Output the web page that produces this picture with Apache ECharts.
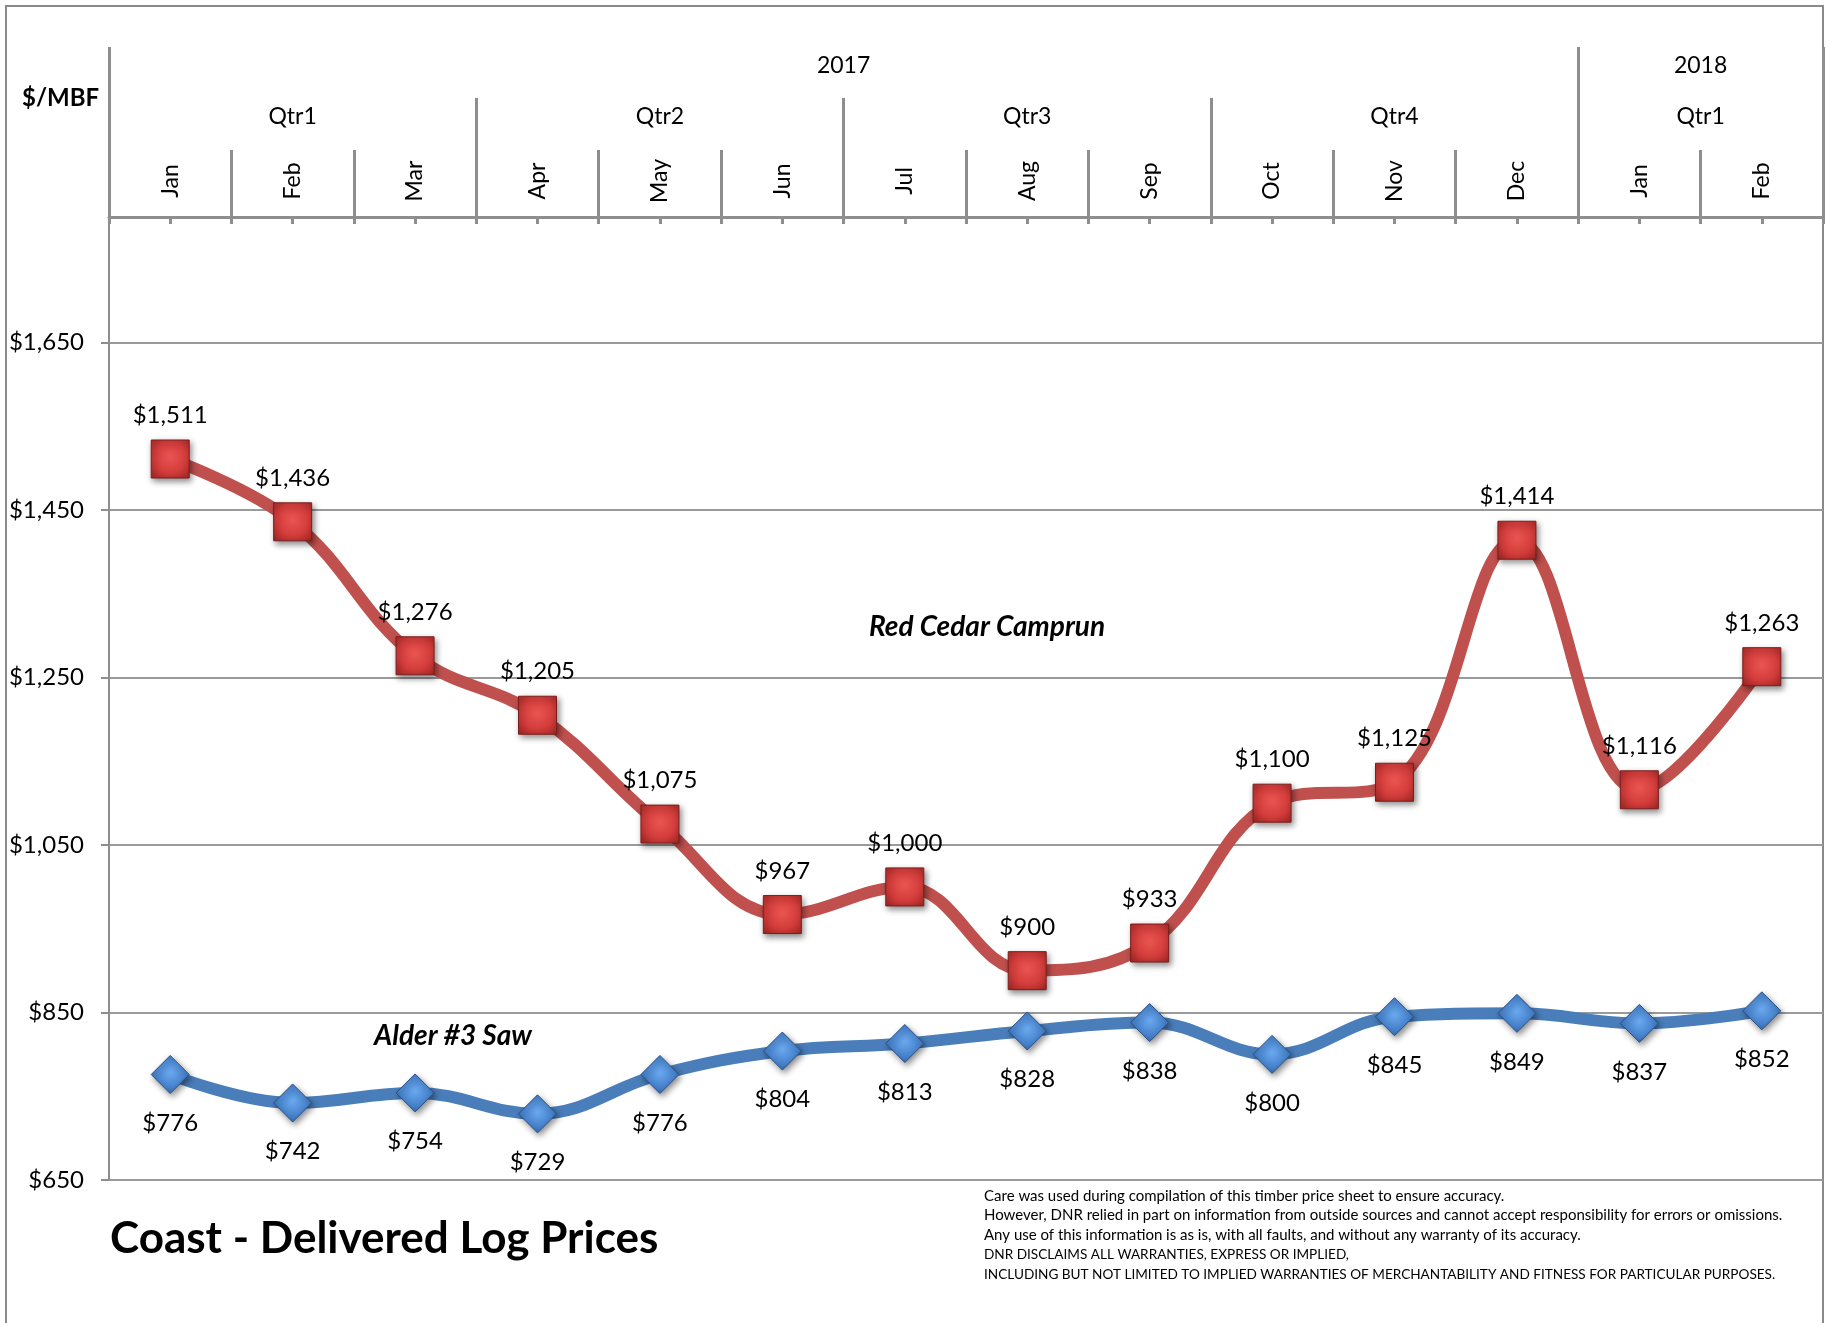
<!DOCTYPE html>
<html>
<head>
<meta charset="utf-8">
<title>Coast - Delivered Log Prices</title>
<script src="https://cdn.jsdelivr.net/npm/echarts@6/dist/echarts.min.js"></script>
<style>
  html, body { margin: 0; padding: 0; background: #fff; }
  #main { width: 1826px; height: 1323px; }
</style>
</head>
<body>
<div id="main"></div>
<script>
// categories and header levels
var months = ['Jan', 'Feb', 'Mar', 'Apr', 'May', 'Jun', 'Jul', 'Aug', 'Sep', 'Oct', 'Nov', 'Dec', 'Jan', 'Feb'];
var quarterNames = ['Qtr1', 'Qtr2', 'Qtr3', 'Qtr4', 'Qtr1'];
var quarterSpans = [[0, 2], [3, 5], [6, 8], [9, 11], [12, 13]];
var yearNames = ['2017', '2018'];
var yearSpans = [[0, 11], [12, 13]];

// series values ($/MBF)
var redCedar = [1511, 1436, 1276, 1205, 1075, 967, 1000, 900, 933, 1100, 1125, 1414, 1116, 1263];
var alder = [776, 742, 754, 729, 776, 804, 813, 828, 838, 800, 845, 849, 837, 852];

// y tick labels
var yTicks = [650, 850, 1050, 1250, 1450, 1650];

var disclaimer = [
  'Care was used during compilation of this timber price sheet to ensure accuracy.',
  'However, DNR relied in part on information from outside sources and cannot accept responsibility for errors or omissions.',
  'Any use of this information is as is, with all faults, and without any warranty of its accuracy.',
  'DNR DISCLAIMS ALL WARRANTIES, EXPRESS OR IMPLIED,',
  'INCLUDING BUT NOT LIMITED TO IMPLIED WARRANTIES OF MERCHANTABILITY AND FITNESS FOR PARTICULAR PURPOSES.'
];

var FONT = 'Lato';
var GRAY = '#8e8e8e';

function money(v) {
  return '$' + String(v).replace(/\B(?=(\d{3})+(?!\d))/g, ',');
}
function centers(spans) {
  return spans.map(function (s) { return (s[0] + s[1]) / 2; });
}
function edges(spans) {
  var e = spans.map(function (s) { return s[0] - 0.5; });
  e.push(spans[spans.length - 1][1] + 0.5);
  return e;
}
var monthEdges = months.map(function (m, i) { return i + 0.5; }).slice(0, months.length - 1);
var quarterCenters = centers(quarterSpans);
var yearCenters = centers(yearSpans);

var myChart = echarts.init(document.getElementById('main'));

var headerAxis = function (tickValues, tickLen, labelValues, names, margin) {
  return {
    type: 'value',
    position: 'top',
    min: -0.5,
    max: months.length - 0.5,
    axisLine: { show: false, onZero: false },
    splitLine: { show: false },
    axisTick: {
      show: true,
      inside: false,
      length: tickLen,
      customValues: tickValues,
      lineStyle: { color: GRAY, width: 3 }
    },
    axisLabel: {
      show: !!labelValues,
      customValues: labelValues || [],
      margin: margin || 0,
      verticalAlign: 'middle',
      fontFamily: FONT,
      fontSize: 23,
      color: '#000',
      formatter: function (v) {
        if (!labelValues) return '';
        var i = labelValues.indexOf(v);
        return i < 0 ? '' : names[i];
      }
    }
  };
};

// disclaimer: mixed-case lines a bit larger than the all-caps ones
var discRich = {
  a: { fontFamily: FONT, fontSize: 15, lineHeight: 19.7, color: '#000' },
  b: { fontFamily: FONT, fontSize: 13.6, lineHeight: 19.7, color: '#000' }
};
var discText = disclaimer.map(function (line, i) {
  return '{' + (i < 3 ? 'a' : 'b') + '|' + line + '}';
}).join('\n');

var option = {
  backgroundColor: '#fff',
  animation: false,
  grid: {
    left: 109,
    right: 3,
    top: 217,
    bottom: 143,
    outerBoundsMode: 'none'
  },
  xAxis: [
    {
      type: 'category',
      position: 'top',
      data: months,
      boundaryGap: true,
      axisLine: { show: true, onZero: false, lineStyle: { color: GRAY, width: 3 } },
      axisTick: { show: true, inside: true, length: 7, interval: 0, lineStyle: { color: GRAY, width: 3 } },
      axisLabel: {
        interval: 0,
        rotate: -90,
        align: 'center',
        verticalAlign: 'middle',
        margin: 36,
        fontFamily: FONT,
        fontSize: 23,
        color: '#000'
      },
      splitLine: { show: false }
    },
    {
      type: 'category',
      position: 'top',
      data: months,
      boundaryGap: true,
      axisLine: { show: false, onZero: false },
      axisTick: { show: true, inside: true, length: 7, alignWithLabel: true, interval: 0, lineStyle: { color: GRAY, width: 3 } },
      axisLabel: { show: false },
      splitLine: { show: false }
    },
    headerAxis(monthEdges, 67, null, null, 0),
    headerAxis(edges(quarterSpans), 119, quarterCenters, quarterNames, 100.5),
    headerAxis(edges(yearSpans), 170, yearCenters, yearNames, 151.5)
  ],
  yAxis: {
    type: 'value',
    min: 650,
    max: 1800,
    axisLine: { show: true, onZero: false, lineStyle: { color: GRAY, width: 2 } },
    axisTick: { show: true, inside: false, length: 8, customValues: yTicks, lineStyle: { color: GRAY, width: 2 } },
    axisLabel: {
      customValues: yTicks,
      margin: 25,
      fontFamily: FONT,
      fontSize: 24,
      color: '#000',
      formatter: function (v) { return money(v); }
    },
    splitLine: { show: true, lineStyle: { color: '#9a9a9a', width: 2 } }
  },
  series: [
    {
      name: 'Red Cedar Camprun',
      type: 'line',
      xAxisIndex: 0,
      data: redCedar,
      smooth: 0.4,
      symbol: 'rect',
      symbolSize: 38,
      lineStyle: { color: '#c0504d', width: 12 },
      itemStyle: {
        color: new echarts.graphic.RadialGradient(0.5, 0.45, 0.75, [
          { offset: 0, color: '#ea5552' },
          { offset: 0.55, color: '#d23c3a' },
          { offset: 1, color: '#9a2422' }
        ]),
        borderColor: '#7a1e1c',
        borderWidth: 1,
        shadowBlur: 6,
        shadowColor: 'rgba(0,0,0,0.45)',
        shadowOffsetX: 2,
        shadowOffsetY: 3
      },
      label: {
        show: true,
        position: 'top',
        distance: 12,
        fontFamily: FONT,
        fontSize: 24,
        color: '#000',
        formatter: function (p) { return money(p.value); }
      },
      z: 3
    },
    {
      name: 'Alder #3 Saw',
      type: 'line',
      xAxisIndex: 0,
      data: alder,
      smooth: 0.4,
      symbol: 'diamond',
      symbolSize: 38,
      lineStyle: { color: '#4a7ebb', width: 12 },
      itemStyle: {
        color: new echarts.graphic.RadialGradient(0.5, 0.45, 0.7, [
          { offset: 0, color: '#6aa8ee' },
          { offset: 0.55, color: '#4682cc' },
          { offset: 1, color: '#2a5a98' }
        ]),
        borderColor: '#2b5184',
        borderWidth: 1,
        shadowBlur: 6,
        shadowColor: 'rgba(0,0,0,0.45)',
        shadowOffsetX: 2,
        shadowOffsetY: 3
      },
      label: {
        show: true,
        position: 'bottom',
        distance: 17,
        fontFamily: FONT,
        fontSize: 24,
        color: '#000',
        formatter: function (p) { return money(p.value); }
      },
      z: 3
    }
  ],
  graphic: [
    {
      type: 'rect',
      shape: { x: 6, y: 6, width: 1817, height: 1340 },
      style: { fill: null, stroke: '#8a8a8a', lineWidth: 2 },
      silent: true
    },
    {
      type: 'text',
      left: 22,
      top: 86,
      style: { text: '$/MBF', font: 'bold 24px ' + FONT, fill: '#000' }
    },
    {
      type: 'text',
      x: 987,
      y: 627,
      style: {
        text: 'Red Cedar Camprun',
        font: 'italic bold 28px ' + FONT,
        fill: '#000',
        textAlign: 'center',
        textVerticalAlign: 'middle'
      }
    },
    {
      type: 'text',
      x: 453,
      y: 1036,
      style: {
        text: 'Alder #3 Saw',
        font: 'italic bold 28px ' + FONT,
        fill: '#000',
        textAlign: 'center',
        textVerticalAlign: 'middle'
      }
    },
    {
      type: 'text',
      x: 110,
      y: 1239,
      style: {
        text: 'Coast - Delivered Log Prices',
        font: 'bold 44px ' + FONT,
        fill: '#000',
        textVerticalAlign: 'middle'
      }
    },
    {
      type: 'text',
      x: 984,
      y: 1186,
      style: {
        text: discText,
        rich: discRich,
        fill: '#000'
      }
    }
  ]
};

myChart.setOption(option);
</script>
</body>
</html>
